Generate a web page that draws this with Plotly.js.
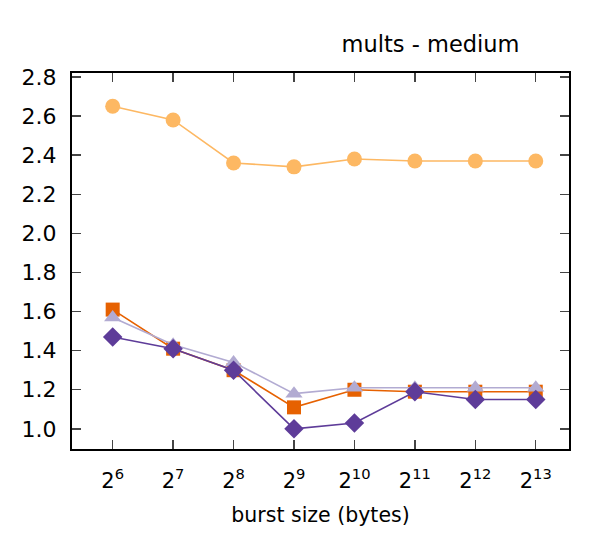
<!DOCTYPE html>
<html>
<head>
<meta charset="utf-8">
<script src="https://cdn.plot.ly/plotly-3.0.1.min.js"></script>
<style>body{margin:0;padding:0;background:#fff}#chart{width:598px;height:533px}</style>
</head>
<body>
<div id="chart"></div>
<script>
const exponents = [6, 7, 8, 9, 10, 11, 12, 13];
const tickLabels = ["2<sup>6</sup>","2<sup>7</sup>","2<sup>8</sup>","2<sup>9</sup>","2<sup>10</sup>","2<sup>11</sup>","2<sup>12</sup>","2<sup>13</sup>"];
const yTickValues = [1.0, 1.2, 1.4, 1.6, 1.8, 2.0, 2.2, 2.4, 2.6, 2.8];
const yTickLabels = ['1.0','1.2','1.4','1.6','1.8','2.0','2.2','2.4','2.6','2.8'];
const seriesCircle = [2.65, 2.58, 2.36, 2.34, 2.38, 2.37, 2.37, 2.37];
const seriesSquare = [1.61, 1.41, 1.30, 1.11, 1.20, 1.19, 1.19, 1.19];
const seriesTriangle = [1.57, 1.43, 1.34, 1.18, 1.21, 1.21, 1.21, 1.21];
const seriesDiamond = [1.47, 1.41, 1.30, 1.00, 1.03, 1.19, 1.15, 1.15];

const FONT = 'DejaVu Sans, sans-serif';
function tr(y, color, symbol, size) {
  return {x: exponents, y: y, type: 'scatter', mode: 'lines+markers',
    line: {color: color, width: 1.6},
    marker: {color: color, symbol: symbol, size: size, line: {width: 0}},
    showlegend: false, hoverinfo: 'skip'};
}
const data = [
  tr(seriesCircle, '#fdb863', 'circle', 15),
  tr(seriesSquare, '#e66101', 'square', 14),
  tr(seriesTriangle, '#b2abd2', 'triangle-up', 15),
  tr(seriesDiamond, '#5e3c99', 'diamond', 15)
];
const layout = {
  width: 598, height: 533,
  margin: {l: 72, r: 29, t: 73, b: 84},
  paper_bgcolor: '#fff', plot_bgcolor: '#fff',
  font: {family: FONT, color: '#000', size: 20},
  title: {text: 'mults - medium', x: 0.72, xanchor: 'center', y: 0.917, yanchor: 'middle',
    font: {size: 22.5, color: '#000', family: FONT}},
  xaxis: {
    showline: true, linecolor: '#000', linewidth: 2, mirror: 'ticks',
    ticks: 'inside', ticklen: 9, tickwidth: 1.3, tickcolor: '#444',
    showgrid: false, zeroline: false,
    tickfont: {family: FONT, size: 21, color: '#000'},
    range: [5.327, 13.55], tickvals: exponents, ticktext: tickLabels,
    ticklabelstandoff: 12,
    title: {text: 'burst size (bytes)', standoff: 15, font: {size: 20.5, color: '#000', family: FONT}}
  },
  yaxis: {
    showline: true, linecolor: '#000', linewidth: 2, mirror: 'ticks',
    ticks: 'inside', ticklen: 9, tickwidth: 1.3, tickcolor: '#444',
    showgrid: false, zeroline: false,
    tickfont: {family: FONT, size: 22, color: '#000'},
    range: [0.897, 2.82], tickvals: yTickValues, ticktext: yTickLabels,
    ticklabelstandoff: 9
  }
};
Plotly.newPlot('chart', data, layout, {displayModeBar: false, staticPlot: true});
</script>
</body>
</html>
